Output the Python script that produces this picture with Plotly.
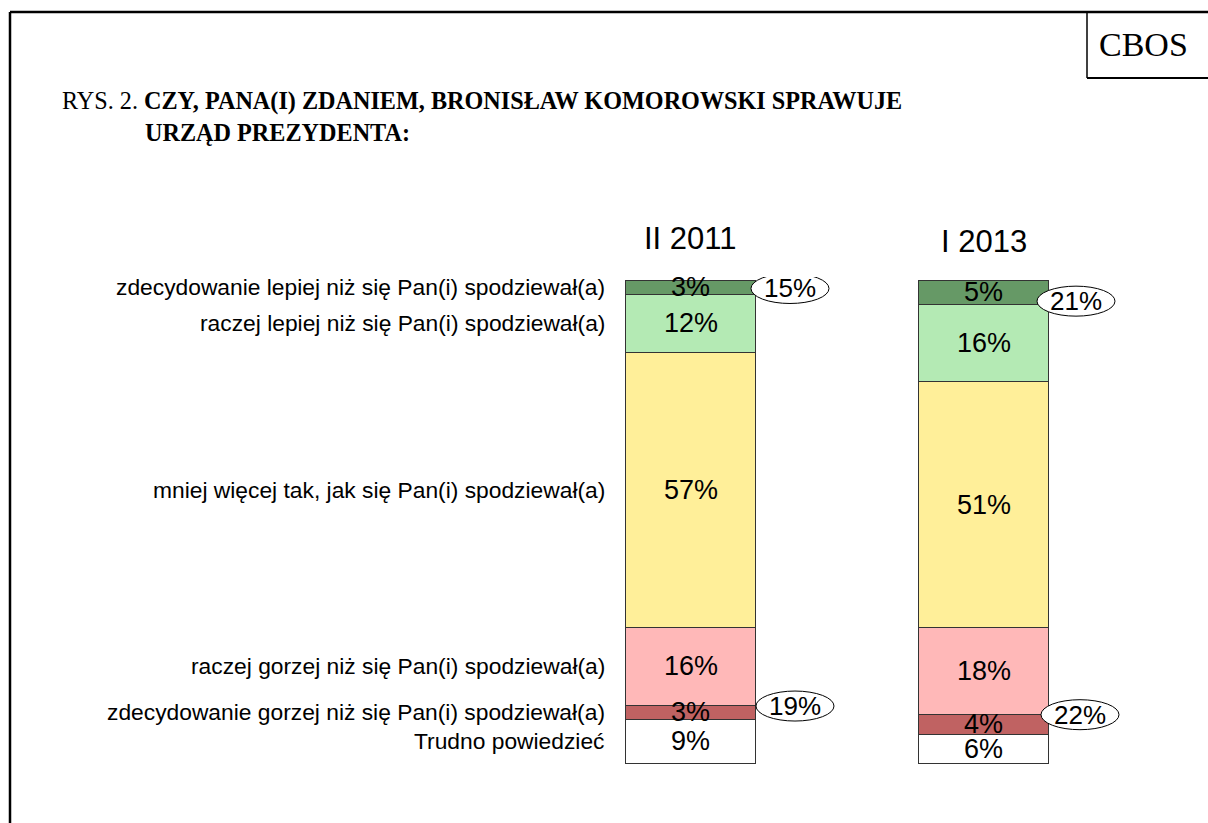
import plotly.graph_objects as go
import numpy as np

periods = ["II 2011", "I 2013"]
categories = [
    "zdecydowanie lepiej niż się Pan(i) spodziewał(a)",
    "raczej lepiej niż się Pan(i) spodziewał(a)",
    "mniej więcej tak, jak się Pan(i) spodziewał(a)",
    "raczej gorzej niż się Pan(i) spodziewał(a)",
    "zdecydowanie gorzej niż się Pan(i) spodziewał(a)",
    "Trudno powiedzieć",
]
values_2011 = [3, 12, 57, 16, 3, 9]
values_2013 = [5, 16, 51, 18, 4, 6]
colors = ["#669966", "#b4eab4", "#ffef99", "#ffb8b8", "#c06262", "#ffffff"]

# totals shown in ellipses: better (sum of first two), worse (sum of 4th and 5th)
better_totals = [15, 21]
worse_totals = [19, 22]

W, H = 1208, 823
series = [values_2011, values_2013]

fig = go.Figure()
for i, cat in enumerate(categories):
    fig.add_trace(go.Bar(
        x=[0, 1],
        y=[series[0][i], series[1][i]],
        name=cat,
        marker=dict(color=colors[i], line=dict(color="#333333", width=1)),
        width=0.447,
        showlegend=False,
        hoverinfo="skip",
        cliponaxis=False,
    ))

annotations = []
shapes = []

# value labels inside segments
for p, vals in enumerate(series):
    cum = np.cumsum([0] + vals)
    for i, v in enumerate(vals):
        mid = (cum[i] + cum[i + 1]) / 2
        annotations.append(dict(
            x=p, y=mid, xref="x", yref="y", text=f"{v}%", showarrow=False,
            font=dict(family="Liberation Sans, Arial", size=27, color="#000000"),
            xanchor="center", yanchor="middle",
        ))

# category labels on left aligned to first bar segments
cum0 = np.cumsum([0] + values_2011)
for i, cat in enumerate(categories):
    mid = (cum0[i] + cum0[i + 1]) / 2
    annotations.append(dict(
        x=607 / W, y=mid, xref="paper", yref="y", text=cat, showarrow=False,
        font=dict(family="Liberation Sans, Arial", size=22.8, color="#000000"),
        xanchor="right", yanchor="middle",
    ))

# period titles
title_y = [238, 242]
for p, name in enumerate(periods):
    annotations.append(dict(
        x=p, y=1 - title_y[p] / H, xref="x", yref="paper", text=name, showarrow=False,
        font=dict(family="Liberation Sans, Arial", size=31, color="#000000"),
        xanchor="center", yanchor="middle",
    ))

# ellipses with totals
half = 0.447 / 2
ell_specs = []
for p, vals in enumerate(series):
    cum = np.cumsum([0] + vals)
    ell_specs.append((p, cum[1], better_totals[p]))
    ell_specs.append((p, cum[4], worse_totals[p]))
# pixel offsets (dx from bar right edge, dy upwards)
offsets = [(34, 6), (39, -1), (27, 3), (31, 0)]
for (p, yb, tot), (dx, dy) in zip(ell_specs, offsets):
    shapes.append(dict(
        type="circle", xref="x", yref="y",
        xsizemode="pixel", ysizemode="pixel",
        xanchor=p + half, yanchor=yb,
        x0=dx - 39, x1=dx + 39, y0=dy - 15, y1=dy + 15,
        fillcolor="#ffffff", line=dict(color="#000000", width=1), layer="above",
    ))
    annotations.append(dict(
        x=p + half, y=yb, xref="x", yref="y", text=f"{tot}%", showarrow=False,
        xshift=dx, yshift=dy,
        font=dict(family="Liberation Sans, Arial", size=26, color="#000000"),
        xanchor="center", yanchor="middle",
    ))

# frame lines
shapes.append(dict(type="line", xref="paper", yref="paper",
                   x0=10 / W, x1=1.0, y0=1 - 12 / H, y1=1 - 12 / H,
                   line=dict(color="#000000", width=2.5)))
shapes.append(dict(type="line", xref="paper", yref="paper",
                   x0=10 / W, x1=10 / W, y0=0, y1=1 - 12 / H,
                   line=dict(color="#000000", width=2.5)))
# CBOS box
shapes.append(dict(type="line", xref="paper", yref="paper",
                   x0=1087 / W, x1=1087 / W, y0=1 - 78 / H, y1=1 - 12 / H,
                   line=dict(color="#000000", width=1.5)))
shapes.append(dict(type="line", xref="paper", yref="paper",
                   x0=1087 / W, x1=1.0, y0=1 - 78 / H, y1=1 - 78 / H,
                   line=dict(color="#000000", width=2)))
annotations.append(dict(
    x=1143 / W, y=1 - 45 / H, xref="paper", yref="paper", text="CBOS", showarrow=False,
    font=dict(family="Liberation Serif, Times New Roman", size=34, color="#000000"),
    xanchor="center", yanchor="middle",
))

# title
annotations.append(dict(
    x=60 / W, y=1 - 101 / H, xref="paper", yref="paper",
    text="RYS. 2. <b>CZY, PANA(I) ZDANIEM, BRONISŁAW KOMOROWSKI SPRAWUJE</b>",
    showarrow=False, xanchor="left", yanchor="middle",
    font=dict(family="Liberation Serif, Times New Roman", size=24.2, color="#000000"),
))
annotations.append(dict(
    x=143 / W, y=1 - 132 / H, xref="paper", yref="paper",
    text="<b>URZĄD PREZYDENTA:</b>",
    showarrow=False, xanchor="left", yanchor="middle",
    font=dict(family="Liberation Serif, Times New Roman", size=24.2, color="#000000"),
))

# y axis: 0..100 maps to pixel rows 280..763, with a small pad so outlines are not clipped
pad = 0.6
ppu = (763 - 280) / 100
dom_bottom = (H - (763 + pad * ppu)) / H
dom_top = (H - (280 - pad * ppu)) / H

fig.update_layout(
    width=W, height=H,
    margin=dict(l=0, r=0, t=0, b=0),
    paper_bgcolor="#ffffff", plot_bgcolor="#ffffff",
    barmode="stack",
    xaxis=dict(range=[-690.5 / 293, (W - 690.5) / 293], domain=[0, 1],
               visible=False, fixedrange=True),
    yaxis=dict(range=[100 + pad, -pad], domain=[dom_bottom, dom_top],
               visible=False, fixedrange=True),
    annotations=annotations,
    shapes=shapes,
)

fig.write_html(
    "out.html",
    config={"displayModeBar": False},
    post_script="document.body.style.margin='0';document.body.style.overflow='hidden';",
)
